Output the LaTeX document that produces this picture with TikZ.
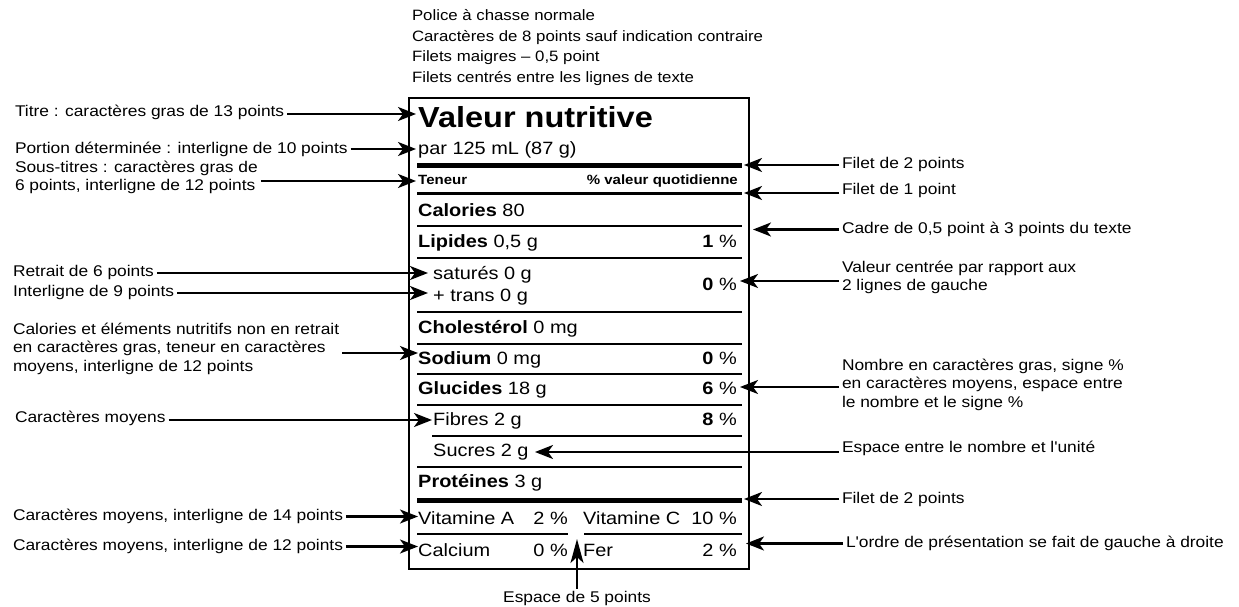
\documentclass[tikz,border=0pt]{standalone}
\usepackage{fontspec}
\setmainfont{Liberation Sans}[FakeStretch=1.12, Ligatures=TeXOff]
\usetikzlibrary{arrows.meta}

\newcommand{\notesize}{\fontsize{15.5}{18.5}\selectfont}
\newcommand{\rowsize}{\fontsize{17.8}{20}\selectfont}
\newcommand{\titlesize}{\fontsize{29}{32}\selectfont}
\newcommand{\headsize}{\fontsize{13.4}{15}\selectfont}

\begin{document}
\begin{tikzpicture}[
	% one unit is one pixel of the layout, y runs downwards
	x=1pt, y=-1pt
	]
	% Styles for the notes, the rows of the label and the arrows.
	\tikzset{
		note/.style={anchor=west, align=left, inner sep=0pt, outer sep=3pt, font=\notesize},
		row/.style={anchor=base west, inner sep=0pt, font=\rowsize},
		val/.style={anchor=base east, inner sep=0pt, font=\rowsize},
		rule/.style={line width=2pt},
		arrow/.style={line width=2.2pt, -{Stealth[length=18pt, width=14pt, inset=5pt]}}
	}
	\useasboundingbox (0,0) rectangle (1239,607);
	
	% === LABEL ===
	
	\node[draw, line width=2pt, inner sep=0pt, anchor=north west,
	minimum width=340pt, minimum height=471pt] (label) at (408,96.7) {};
	
	\node[row, font=\titlesize\bfseries] (title) at (418,128) {Valeur nutritive};
	\node[row] (serving) at (418,154) {par 125 mL (87 g)};
	\node[row, font=\headsize\bfseries] (amount) at (418,184) {Teneur};
	\node[val, font=\headsize\bfseries] (dv) at (738,184) {\% valeur quotidienne};
	\node[row] (calories) at (418,216) {\textbf{Calories} 80};
	\node[row] (fat) at (418,247.5) {\textbf{Lipides} 0,5 g};
	\node[val] (fatdv) at (737,247.5) {\textbf{1} \%};
	\node[row] (sat) at (433,279.5) {saturés 0 g};
	\node[row] (trans) at (433,301.5) {+ trans 0 g};
	\node[val] (satdv) at (737,290) {\textbf{0} \%};
	\node[row] (chol) at (418,333.5) {\textbf{Cholestérol} 0 mg};
	\node[row] (sodium) at (418,364) {\textbf{Sodium} 0 mg};
	\node[val] (sodiumdv) at (737,364) {\textbf{0} \%};
	\node[row] (carb) at (418,394.5) {\textbf{Glucides} 18 g};
	\node[val] (carbdv) at (737,394.5) {\textbf{6} \%};
	\node[row] (fibre) at (433,425.5) {Fibres 2 g};
	\node[val] (fibredv) at (737,425.5) {\textbf{8} \%};
	\node[row] (sugar) at (433,456.5) {Sucres 2 g};
	\node[row] (protein) at (418,487.5) {\textbf{Protéines} 3 g};
	\node[row] (vita) at (418,524) {Vitamine A};
	\node[val] (vitadv) at (568,524) {2 \%};
	\node[row] (vitc) at (583,524) {Vitamine C};
	\node[val] (vitcdv) at (737,524) {10 \%};
	\node[row] (calcium) at (418,556) {Calcium};
	\node[val] (calciumdv) at (568,556) {0 \%};
	\node[row] (iron) at (583,556) {Fer};
	\node[val] (irondv) at (737,556) {2 \%};
	
	% rules between the rows
	\draw[line width=5pt] (417,165.7) -- (742,165.7);
	\draw[line width=3pt] (417,193.5) -- (742,193.5);
	\draw[rule] (417,226) -- (742,226);
	\draw[rule] (417,258.3) -- (742,258.3);
	\draw[rule] (417,312.3) -- (742,312.3);
	\draw[rule] (417,344) -- (742,344);
	\draw[rule] (417,374) -- (742,374);
	\draw[rule] (417,405) -- (742,405);
	\draw[rule] (432,436) -- (742,436);
	\draw[rule] (417,467.3) -- (742,467.3);
	\draw[line width=5pt] (417,500) -- (742,500);
	\draw[rule] (417,534.3) -- (568,534.3);
	\draw[rule] (584,534.3) -- (742,534.3);
	
	% === NOTES ===
	
	\node[note, font=\fontsize{15}{20.7}\selectfont] (fontnote) at (409,47.5)
	{Police à chasse normale\\Caractères de 8 points sauf indication contraire\\Filets maigres – 0,5 point\\Filets centrés entre les lignes de texte};
	
	\node[note] (titlenote) at (12,112) {Titre : caractères gras de 13 points};
	\node[note] (servingnote) at (12,149) {Portion déterminée : interligne de 10 points};
	\node[note] (headnote) at (12,177.5) {Sous-titres : caractères gras de\\6 points, interligne de 12 points};
	\node[note] (indentnote) at (10,272) {Retrait de 6 points};
	\node[note] (leadnote) at (10,292) {Interligne de 9 points};
	\node[note] (nutrientnote) at (10,348.5) {Calories et éléments nutritifs non en retrait\\en caractères gras, teneur en caractères\\moyens, interligne de 12 points};
	\node[note] (plainnote) at (12,418) {Caractères moyens};
	\node[note] (vitnote) at (10,516) {Caractères moyens, interligne de 14 points};
	\node[note] (minnote) at (10,546) {Caractères moyens, interligne de 12 points};
	
	\node[note] (thicknote) at (839,164) {Filet de 2 points};
	\node[note] (thinnote) at (839,190) {Filet de 1 point};
	\node[note] (framenote) at (839,229) {Cadre de 0,5 point à 3 points du texte};
	\node[note] (centrenote) at (839,277.5) {Valeur centrée par rapport aux\\2 lignes de gauche};
	\node[note] (numbernote) at (839,384.5) {Nombre en caractères gras, signe \%\\en caractères moyens, espace entre\\le nombre et le signe \%};
	\node[note] (unitnote) at (839,448) {Espace entre le nombre et l'unité};
	\node[note] (bottomthicknote) at (839,499) {Filet de 2 points};
	\node[note] (ordernote) at (843,543.5) {L'ordre de présentation se fait de gauche à droite};
	
	\node[font=\notesize, inner sep=0pt, outer sep=2pt] (gapnote) at (577,598) {Espace de 5 points};
	
	% arrow tips
	\coordinate (titletip) at (416,114);
	\coordinate (servingtip) at (416,149);
	\coordinate (headtip) at (416,181);
	\coordinate (indenttip) at (428,273);
	\coordinate (leadtip) at (428,293);
	\coordinate (nutrienttip) at (418,353);
	\coordinate (plaintip) at (432,420);
	\coordinate (vittip) at (418,516.5);
	\coordinate (mintip) at (418,546.5);
	\coordinate (thicktip) at (744,165);
	\coordinate (thintip) at (744,193);
	\coordinate (frametip) at (753,229.5);
	\coordinate (centretip) at (740,281);
	\coordinate (numbertip) at (740,387);
	\coordinate (unittip) at (535,452);
	\coordinate (bottomthicktip) at (744,499);
	\coordinate (ordertip) at (746,543.5);
	\coordinate (gaptip) at (577,539);
	
	% === ARROWS ===
	
	\draw[arrow] (titletip -| titlenote.east) -- (titletip);
	\draw[arrow] (servingtip -| servingnote.east) -- (servingtip);
	\draw[arrow] (headtip -| headnote.east) -- (headtip);
	\draw[arrow] (indenttip -| indentnote.east) -- (indenttip);
	\draw[arrow] (leadtip -| leadnote.east) -- (leadtip);
	\draw[arrow] (nutrienttip -| nutrientnote.east) -- (nutrienttip);
	\draw[arrow] (plaintip -| plainnote.east) -- (plaintip);
	\draw[arrow] (vittip -| vitnote.east) -- (vittip);
	\draw[arrow] (mintip -| minnote.east) -- (mintip);
	
	\draw[arrow] (thicktip -| thicknote.west) -- (thicktip);
	\draw[arrow] (thintip -| thinnote.west) -- (thintip);
	\draw[arrow] (frametip -| framenote.west) -- (frametip);
	\draw[arrow] (centretip -| centrenote.west) -- (centretip);
	\draw[arrow] (numbertip -| numbernote.west) -- (numbertip);
	\draw[arrow] (unittip -| unitnote.west) -- (unittip);
	\draw[arrow] (bottomthicktip -| bottomthicknote.west) -- (bottomthicktip);
	\draw[arrow] (ordertip -| ordernote.west) -- (ordertip);
	
	\draw[arrow, -{Stealth[length=24pt, width=13pt, inset=6pt]}] (gapnote.north) -- (gaptip);
\end{tikzpicture}
\end{document}
